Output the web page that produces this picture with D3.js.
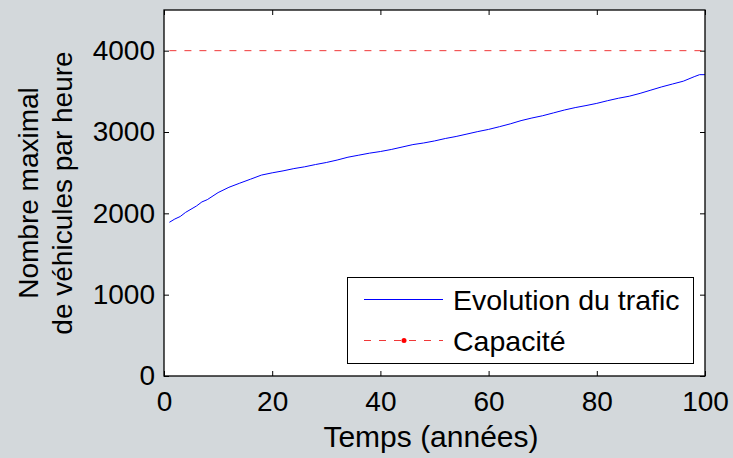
<!DOCTYPE html>
<html>
<head>
<meta charset="utf-8">
<script src="https://cdn.jsdelivr.net/npm/d3@7/dist/d3.min.js"></script>
<style>
  html, body { margin: 0; padding: 0; background: #d3d8db; }
  svg { display: block; }
  text { font-family: "Liberation Sans", Arial, sans-serif; fill: #000; }
</style>
</head>
<body>
<svg id="chart" width="733" height="458"></svg>
<script>
// Traffic growth (vehicles per hour) against time in years
const years = [1, 2, 3, 4, 6, 7, 8, 10, 12, 14, 16, 18, 20, 22, 24, 26, 28, 30, 32, 34, 36, 38, 40,
  42, 44, 46, 48, 50, 52, 54, 56, 58, 60, 62, 64, 66, 68, 70, 72, 74, 76, 78, 80,
  82, 84, 86, 88, 90, 92, 94, 96, 98, 99, 100];
const traffic = [1890, 1930, 1961, 2012, 2090, 2140, 2168, 2255, 2320, 2371, 2420, 2470, 2498, 2522, 2550, 2572, 2600, 2625, 2655, 2690, 2715, 2740, 2760,
  2785, 2815, 2845, 2865, 2890, 2920, 2945, 2975, 3005, 3032, 3065, 3100, 3140, 3172, 3200, 3235, 3270, 3300, 3325, 3352,
  3385, 3415, 3440, 3475, 3515, 3555, 3590, 3625, 3680, 3705, 3705];

// Road capacity (constant)
const capacityYears = [1, 100];
const capacity = [4000, 4000];

const xTicks = [0, 20, 40, 60, 80, 100];
const yTicks = [0, 1000, 2000, 3000, 4000];
const legendLabels = ["Evolution du trafic", "Capacité"];
const xLabel = "Temps (années)";
const yLabelLines = ["Nombre maximal", "de véhicules par heure"];

const svg = d3.select("#chart");
const plotL = 164, plotR = 705, plotT = 10, plotB = 376;

const x = d3.scaleLinear().domain([0, 100]).range([plotL, plotR]);
const y = d3.scaleLinear().domain([0, 4500]).range([plotB, plotT]);

// plot area
svg.append("rect")
  .attr("x", plotL).attr("y", plotT)
  .attr("width", plotR - plotL).attr("height", plotB - plotT)
  .attr("fill", "#fff");

const fontSize = 28;
const plain = d3.format("d");

// axes with inward ticks on all four sides
const gBottom = svg.append("g").attr("transform", `translate(0,${plotB})`)
  .call(d3.axisBottom(x).tickValues(xTicks).tickFormat(plain).tickSizeInner(-5).tickSizeOuter(0).tickPadding(15));
const gTop = svg.append("g").attr("transform", `translate(0,${plotT})`)
  .call(d3.axisTop(x).tickValues(xTicks).tickSizeInner(-5).tickSizeOuter(0).tickFormat(""));
const gLeft = svg.append("g").attr("transform", `translate(${plotL},0)`)
  .call(d3.axisLeft(y).tickValues(yTicks).tickFormat(plain).tickSizeInner(-5).tickSizeOuter(0).tickPadding(9));
const gRight = svg.append("g").attr("transform", `translate(${plotR},0)`)
  .call(d3.axisRight(y).tickValues(yTicks).tickSizeInner(-5).tickSizeOuter(0).tickFormat(""));

[gBottom, gTop, gLeft, gRight].forEach(g => {
  g.select(".domain").remove();
  g.selectAll(".tick line").attr("stroke", "#000").attr("stroke-width", 1);
  g.selectAll("text")
    .attr("font-size", fontSize)
    .attr("font-family", "'Liberation Sans', Arial, sans-serif")
    .attr("fill", "#000");
});

// capacity line
const line = d3.line().x(d => x(d[0])).y(d => y(d[1]));
svg.append("path")
  .datum(capacityYears.map((t, i) => [t, capacity[i]]))
  .attr("d", line)
  .attr("fill", "none")
  .attr("stroke", "#f03838")
  .attr("stroke-width", 1)
  .attr("stroke-dasharray", "7,8");

// traffic curve
svg.append("path")
  .datum(years.map((t, i) => [t, traffic[i]]))
  .attr("d", line)
  .attr("fill", "none")
  .attr("stroke", "#0000ff")
  .attr("stroke-width", 1);

// axes box
svg.append("rect")
  .attr("x", plotL).attr("y", plotT)
  .attr("width", plotR - plotL).attr("height", plotB - plotT)
  .attr("fill", "none").attr("stroke", "#000").attr("stroke-width", 1.3);

// legend
const lg = svg.append("g");
lg.append("rect")
  .attr("x", 347.5).attr("y", 277.5).attr("width", 346).attr("height", 86)
  .attr("fill", "#fff").attr("stroke", "#000").attr("stroke-width", 1);
lg.append("line")
  .attr("x1", 364).attr("x2", 443).attr("y1", 299.5).attr("y2", 299.5)
  .attr("stroke", "#0000ff").attr("stroke-width", 1);
lg.append("line")
  .attr("x1", 364).attr("x2", 443).attr("y1", 340.5).attr("y2", 340.5)
  .attr("stroke", "#f03838").attr("stroke-width", 1).attr("stroke-dasharray", "7,8");
lg.append("circle")
  .attr("cx", 404).attr("cy", 340.5).attr("r", 2.5).attr("fill", "#ff0000");
lg.selectAll("text.leg").data(legendLabels).join("text")
  .attr("class", "leg")
  .attr("x", 453)
  .attr("y", (d, i) => i === 0 ? 310 : 351)
  .attr("font-size", 28.5)
  .text(d => d);

// axis titles
svg.append("text")
  .attr("x", 431).attr("y", 447)
  .attr("text-anchor", "middle")
  .attr("font-size", 30)
  .text(xLabel);

svg.append("g")
  .attr("transform", "translate(0,193) rotate(-90)")
  .selectAll("text").data(yLabelLines).join("text")
  .attr("x", 0)
  .attr("y", (d, i) => i === 0 ? 38 : 72)
  .attr("text-anchor", "middle")
  .attr("font-size", fontSize)
  .text(d => d);
</script>
</body>
</html>
